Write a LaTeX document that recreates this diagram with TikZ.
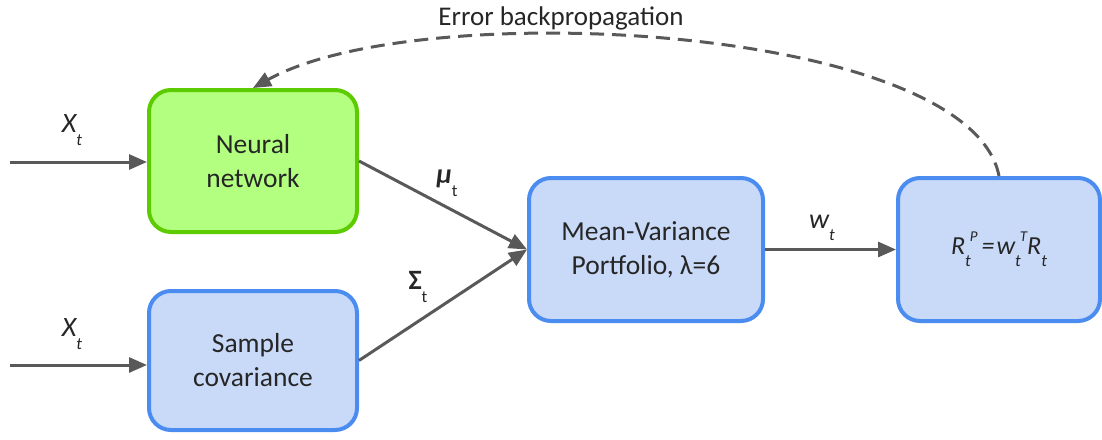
\documentclass[tikz,border=0pt]{standalone}
\usepackage{fontspec}
\setmainfont{Carlito}
\usetikzlibrary{arrows.meta}
\definecolor{greenfill}{HTML}{B3FF7F}
\definecolor{greenedge}{HTML}{5CCC00}
\definecolor{bluefill}{HTML}{C9DAF8}
\definecolor{blueedge}{HTML}{4A8CF0}
\definecolor{arrowgray}{HTML}{595959}
% lowered / raised small text for indices
\newcommand\lowidx[1]{\raisebox{-0.45em}{\fontsize{17}{17}\selectfont #1}}
\newcommand\highidx[1]{\raisebox{0.5em}{\fontsize{15}{15}\selectfont #1}}
\begin{document}
\begin{tikzpicture}[x=1pt,y=-1pt,
  box/.style={rounded corners=22pt, line width=4pt, align=center,
    font=\fontsize{27.5}{34}\selectfont, text=black!85},
  greenbox/.style={box, fill=greenfill, draw=greenedge},
  bluebox/.style={box, fill=bluefill, draw=blueedge},
  flow/.style={draw=arrowgray, line width=3pt,
    -{Triangle[length=18pt,width=15pt]}},
  lbl/.style={font=\fontsize{28}{28}\selectfont, text=black!85, inner sep=0pt}]
\useasboundingbox (0,0) rectangle (1102,439);

\node[greenbox, minimum width=208pt, minimum height=142pt] (nn) at (253,161) {Neural\\network};
\node[bluebox, minimum width=208pt, minimum height=139pt] (sc) at (253,360.5) {Sample\\covariance};
\node[bluebox, minimum width=234pt, minimum height=143pt] (mv) at (646,249.5) {Mean-Variance\\Portfolio, λ=6};
\node[bluebox, minimum width=202pt, minimum height=143pt, font=\fontsize{26}{26}\selectfont\itshape] (rp) at (999,249.5)
  {R\lowidx{t}\kern-1pt\highidx{P}\kern4pt=\kern2pt w\lowidx{t}\kern-1pt\highidx{T}R\lowidx{t}};

% inputs
\coordinate (in1) at (10,162);
\coordinate (in2) at (10,365);
\draw[flow] (in1) -- (in1 -| nn.west);
\draw[flow] (in2) -- (in2 -| sc.west);
\node[lbl] (x1) at (72,130) {\itshape X\lowidx{t}};
\node[lbl] (x2) at (72,334) {\itshape X\lowidx{t}};

% estimates into the optimiser
\draw[flow] (nn.east) -- (mv.west);
\draw[flow] (sc.east) -- (mv.west);
\node[lbl] (mu) at (447,183) {\bfseries\itshape μ\mdseries\upshape\lowidx{t}};
\node[lbl] (sig) at (418,287) {\bfseries Σ\mdseries\lowidx{t}};

% weights into the return
\draw[flow] (mv.east) -- (rp.west);
\node[lbl] (w) at (822,228) {\itshape w\lowidx{t}};

% feedback loop
\draw[draw=arrowgray, line width=3pt, dash pattern=on 14pt off 8pt,
  -{Triangle[length=18pt,width=15pt]}]
  (rp.north) .. controls (970,25) and (420,-5) .. (nn.north);
\node[font=\fontsize{27}{27}\selectfont, text=black!85] (eb) at (561,18) {Error backpropagation};
\end{tikzpicture}
\end{document}
